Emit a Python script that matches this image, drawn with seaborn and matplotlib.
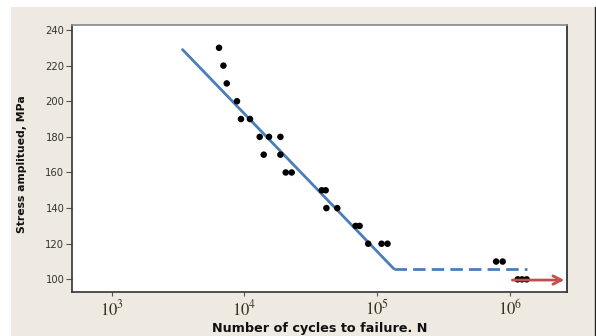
import matplotlib
matplotlib.use("Agg")
import matplotlib.pyplot as plt
import matplotlib.patches as mpatches
import matplotlib.lines as mlines
import seaborn as sns
import pandas as pd

# ---- data ----
cycles = [6440, 6950, 7360, 8790, 9420, 11010, 13030, 15310, 18660, 13970, 18660,
          20460, 22700, 38200, 40900, 41400, 50000, 68700, 73600, 85500, 107700, 119400,
          785000, 879000, 1140000, 1230000, 1333000]
stress = [230, 220, 210, 200, 190, 190, 180, 180, 180, 170, 170,
          160, 160, 150, 150, 140, 140, 130, 130, 120, 120, 120,
          110, 110, 100, 100, 100]

fit_x = [3420, 133000]
fit_y = [229, 106]
endurance_x = [133000, 1337000]
endurance_y = [106, 106]
arrow_x = [1040000, 2560000]
arrow_y = [99.6, 99.6]

xtick_vals = [1e3, 1e4, 1e5, 1e6]
xtick_labels = [r"$10^{3}$", r"$10^{4}$", r"$10^{5}$", r"$10^{6}$"]
ytick_vals = [100, 120, 140, 160, 180, 200, 220, 240]

df = pd.DataFrame({"N": cycles, "S": stress})
fit_df = pd.DataFrame({"N": fit_x, "S": fit_y})
end_df = pd.DataFrame({"N": endurance_x, "S": endurance_y})

sns.set_style("white")
plt.rcParams["font.family"] = ["DejaVu Sans"]
plt.rcParams["mathtext.fontset"] = "stix"

W, H = 596, 336
fig = plt.figure(figsize=(W / 100, H / 100), dpi=100, facecolor="white")

beige = "#EEEAE1"
fig.patches.append(mpatches.Rectangle((11 / W, 0), (595 - 11) / W, (H - 7) / H,
                                      transform=fig.transFigure, facecolor=beige,
                                      edgecolor="none", zorder=-10))
fig.lines.append(mlines.Line2D([595 / W, 595 / W], [0, (H - 7) / H], transform=fig.transFigure,
                               color="#222222", lw=1))

ax = fig.add_axes([72 / W, (H - 292) / H, (566.7 - 72) / W, (292 - 25) / H])
ax.set_facecolor("white")

sns.lineplot(data=fit_df, x="N", y="S", ax=ax, color="#4A7EBB", lw=2.0, zorder=2)
sns.lineplot(data=end_df, x="N", y="S", ax=ax, color="#4A7EBB", lw=2.0, zorder=2,
             linestyle=(0, (4.5, 2.2)))
sns.scatterplot(data=df, x="N", y="S", ax=ax, color="black", s=22, edgecolor="none", zorder=3)

ax.annotate("", xy=(arrow_x[1], arrow_y[1]), xytext=(arrow_x[0], arrow_y[0]),
            arrowprops=dict(arrowstyle="->,head_length=0.6,head_width=0.3", color="#C0504D",
                            lw=2.0, shrinkA=0, shrinkB=0), zorder=4)

ax.set_xscale("log")
ax.set_xlim(10 ** 2.702, 10 ** 6.426)
ax.set_ylim(92.9, 242.8)
ax.set_xticks(xtick_vals)
ax.set_xticklabels(xtick_labels, fontsize=12, color="#3a3222")
ax.minorticks_off()
ax.set_yticks(ytick_vals)
ax.set_yticklabels([str(v) for v in ytick_vals], fontsize=7.2, color="#333333")
ax.tick_params(axis="y", direction="out", length=4, width=0.8, color="#555555", pad=1.5, left=True)
ax.tick_params(axis="x", direction="out", length=3, width=0.8, color="#555555", pad=2, bottom=True)

for side in ["left", "bottom"]:
    ax.spines[side].set_color("#333333")
    ax.spines[side].set_linewidth(1.2)
ax.spines["top"].set_color("#888888")
ax.spines["top"].set_linewidth(1.2)
ax.spines["right"].set_color("#222222")
ax.spines["right"].set_linewidth(1.2)

ax.set_xlabel("Number of cycles to failure. N", fontsize=9.2, fontweight="bold", color="#111111")
ax.set_ylabel("Stress amplitued, MPa", fontsize=7.8, fontweight="bold", color="#111111")
ax.xaxis.set_label_coords(0.5, -0.112)
ax.yaxis.set_label_coords(-0.09, 0.48)

fig.savefig("out.png", dpi=100, facecolor=fig.get_facecolor())
